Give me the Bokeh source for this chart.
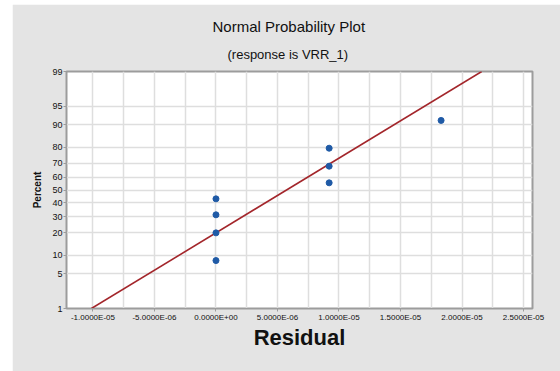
from statistics import NormalDist
import numpy as np
from bokeh.plotting import figure
from bokeh.models import FixedTicker, Title, Range1d
from bokeh.embed import file_html
from bokeh.resources import INLINE

# ---- data ----
residuals = [0.0, 0.0, 0.0, 0.0, 9.2e-6, 9.2e-6, 9.2e-6, 1.83e-5]
percents = [8.3, 20.0, 31.3, 43.1, 55.6, 68.0, 79.4, 91.4]
y_tick_percents = [1, 5, 10, 20, 30, 40, 50, 60, 70, 80, 90, 95, 99]
x_tick_values = [-1.0e-5, -5.0e-6, 0.0, 5.0e-6, 1.0e-5, 1.5e-5, 2.0e-5, 2.5e-5]
title_text = "Normal Probability Plot"
subtitle_text = "(response is VRR_1)"
x_label = "Residual"
y_label = "Percent"

nd = NormalDist()
def pz(p):
    return nd.inv_cdf(p / 100.0)

z_pts = [pz(p) for p in percents]
z_lo, z_hi = pz(1), pz(99)

p = figure(width=548, height=367, output_backend="svg", toolbar_location=None,
           x_range=Range1d(-1.215e-5, 2.573e-5), y_range=Range1d(z_lo, z_hi),
           min_border_left=54, min_border_right=28, min_border_top=67,
           min_border_bottom=63, title=title_text)
p.margin = (4, 0, 0, 12)
p.border_fill_color = "#e4e4e4"
p.background_fill_color = "white"
p.outline_line_color = "#9c9c9c"
p.outline_line_width = 2

# titles (main title on top, subtitle nearest the frame)
p.title.align = "left"
p.title.offset = 146
p.title.text_font = "Liberation Sans"
p.title.text_font_size = "15px"
p.title.text_font_style = "normal"
p.title.text_color = "#111111"
p.title.standoff = 0
sub = Title(text=subtitle_text, align="left", offset=161, text_font="Liberation Sans",
            text_font_size="13px", text_font_style="normal", text_color="#111111",
            standoff=20)
p.add_layout(sub, "above")

# axes
p.yaxis.ticker = FixedTicker(ticks=[pz(v) for v in y_tick_percents])
p.yaxis.major_label_overrides = {pz(v): str(v) for v in y_tick_percents}
p.xaxis.ticker = FixedTicker(ticks=x_tick_values)
p.xaxis.major_label_overrides = {v: f"{v:.4E}" for v in x_tick_values}
minor = [(a + b) / 2 for a, b in zip(x_tick_values[:-1], x_tick_values[1:])]
p.xgrid.ticker = FixedTicker(ticks=sorted(x_tick_values + minor))
p.ygrid.ticker = FixedTicker(ticks=[pz(v) for v in y_tick_percents])
for g in (p.xgrid, p.ygrid):
    g.grid_line_color = "#dedede"
    g.grid_line_width = 1.5

for ax in (p.xaxis, p.yaxis):
    ax.axis_line_color = "#9c9c9c"
    ax.axis_line_width = 1
    ax.major_tick_line_color = "#9c9c9c"
    ax.major_tick_out = 3
    ax.major_tick_in = 0
    ax.minor_tick_line_color = None
    ax.major_label_text_font = "Liberation Sans"
    ax.major_label_text_font_size = "8px"
    ax.major_label_text_color = "#111111"
    ax.major_label_standoff = 1
    ax.axis_label_text_font = "Liberation Sans"
    ax.axis_label_text_font_style = "bold"
    ax.axis_label_text_color = "#111111"

p.xaxis.axis_label = x_label
p.xaxis.axis_label_text_font_size = "22px"
p.xaxis.axis_label_standoff = 0
p.yaxis.axis_label = y_label
p.yaxis.axis_label_text_font_size = "10px"
p.yaxis.axis_label_standoff = 6
p.yaxis.major_label_text_font_size = "9px"

# fitted line from mean and sd of residuals
mu = float(np.mean(residuals))
sd = float(np.std(residuals, ddof=1))
p.line([mu + z_lo * sd, mu + z_hi * sd], [z_lo, z_hi], line_color="#a3262b", line_width=1.6)

p.scatter(residuals, z_pts, size=6, color="#1f5aa6")

open("out.html", "w").write(file_html(p, INLINE))
